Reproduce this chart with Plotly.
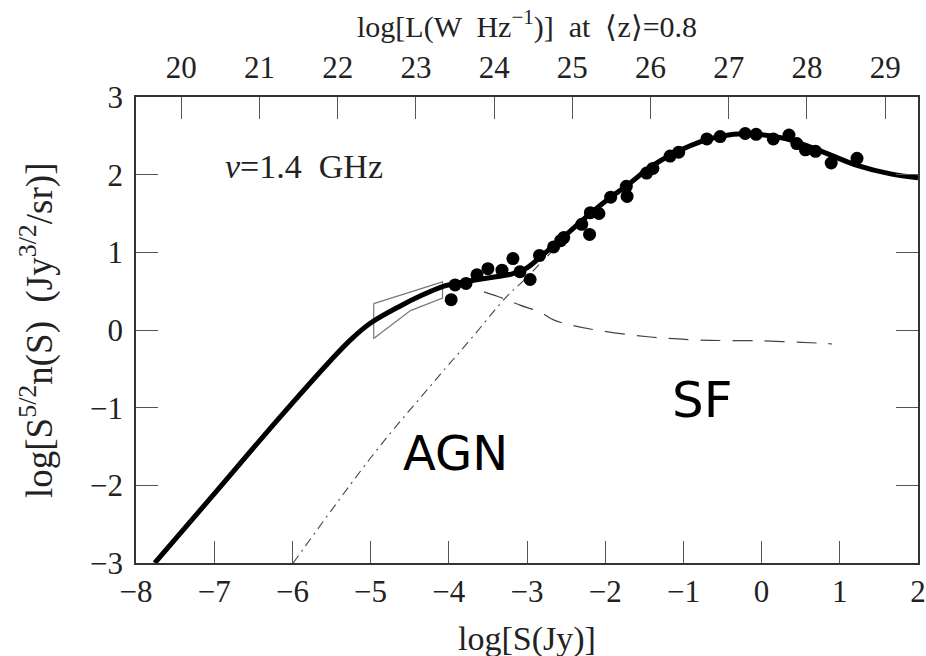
import plotly.graph_objects as go

# ---- data ----
total_S = [-7.76, -7.0, -6.2, -5.5, -5.25, -5.0, -4.62, -4.36, -4.08, -3.8, -3.5, -3.2, -3.0,
           -2.83, -2.53, -2.19, -1.93, -1.72, -1.42, -1.13, -0.70, -0.36, -0.06,
           0.32, 0.79, 1.22, 1.65, 2.0]
total_y = [-3.0, -2.11, -1.17, -0.38, -0.12, 0.09, 0.31, 0.44, 0.56, 0.62, 0.67, 0.72, 0.80,
           0.94, 1.20, 1.50, 1.71, 1.86, 2.10, 2.27, 2.45, 2.52, 2.52,
           2.46, 2.29, 2.12, 2.01, 1.96]

sf_S = [-3.55, -3.26, -3.09, -2.83, -2.66, -2.42, -2.06, -1.42, -0.78, 0.0, 0.75, 0.9]
sf_y = [0.49, 0.39, 0.32, 0.23, 0.13, 0.06, -0.01, -0.09, -0.13, -0.14, -0.17, -0.18]

agn_S = [-5.99, -4.94, -4.15, -3.73, -3.26, -3.04, -2.70, -2.5]
agn_y = [-3.0, -1.57, -0.62, -0.13, 0.43, 0.64, 0.99, 1.17]

obs_S = [-3.97, -3.92, -3.78, -3.64, -3.50, -3.32, -3.18, -3.09, -2.96, -2.84, -2.66,
         -2.57, -2.53, -2.30, -2.20, -2.19, -2.08, -1.93, -1.73, -1.72, -1.47, -1.39,
         -1.17, -1.06, -0.70, -0.53, -0.21, -0.07, 0.15, 0.35, 0.45, 0.56, 0.69, 0.89, 1.22]
obs_y = [0.39, 0.58, 0.60, 0.71, 0.79, 0.77, 0.92, 0.75, 0.65, 0.96, 1.07,
         1.15, 1.19, 1.36, 1.23, 1.51, 1.50, 1.71, 1.85, 1.72, 2.02, 2.08,
         2.24, 2.29, 2.46, 2.49, 2.53, 2.52, 2.46, 2.51, 2.40, 2.32, 2.30, 2.15, 2.21]

box_S = [-4.96, -4.08, -4.08, -4.49, -4.96, -4.96]
box_y = [0.34, 0.62, 0.41, 0.25, -0.11, 0.34]

S_ticks = list(range(-8, 3))
y_ticks = list(range(-3, 4))
L_ticks = list(range(20, 30))
L_offset = 27.42  # log L = log S + offset at <z>=0.8

SERIF = "Liberation Serif"
TXT = "#222222"

fig = go.Figure()
fig.add_trace(go.Scatter(x=box_S, y=box_y, mode="lines",
                         line=dict(color="#777777", width=1.2), hoverinfo="skip"))
fig.add_trace(go.Scatter(x=agn_S, y=agn_y, mode="lines", line_shape="spline",
                         line=dict(color="#444444", width=1.1, dash="9px,5px,2px,5px")))
fig.add_trace(go.Scatter(x=sf_S, y=sf_y, mode="lines", line_shape="spline",
                         line=dict(color="#444444", width=1.2, dash="20px,12px")))
fig.add_trace(go.Scatter(x=total_S, y=total_y, mode="lines", line_shape="spline",
                         line=dict(color="black", width=5)))
fig.add_trace(go.Scatter(x=obs_S, y=obs_y, mode="markers",
                         marker=dict(color="black", size=13)))
# invisible trace to anchor the top luminosity axis
fig.add_trace(go.Scatter(x=L_ticks, y=[None] * len(L_ticks), xaxis="x2", mode="markers",
                         marker=dict(opacity=0), hoverinfo="skip"))

axis_common = dict(ticks="inside", ticklen=22, tickwidth=1, tickcolor="#555555",
                   showgrid=False, zeroline=False, automargin=False,
                   tickfont=dict(family=SERIF, size=31, color=TXT))

fig.update_layout(
    width=926, height=656,
    margin=dict(l=136, r=8, t=97, b=93),
    paper_bgcolor="white", plot_bgcolor="white",
    showlegend=False,
    xaxis=dict(range=[-8, 2], tickmode="array", tickvals=S_ticks,
               showline=True, linecolor="#333333", linewidth=1.5, mirror=True,
               ticklabeloverflow="allow", **axis_common),
    xaxis2=dict(range=[-8 + L_offset, 2 + L_offset], overlaying="x", side="top",
                tickmode="array", tickvals=L_ticks, showline=False,
                ticklabelstandoff=12, **axis_common),
    yaxis=dict(range=[-3, 3], tickmode="array", tickvals=y_ticks,
               showline=True, linecolor="#333333", linewidth=1.5, mirror="ticks",
               ticklabelstandoff=5, **axis_common),
    annotations=[
        dict(text="log[S(Jy)]", xref="paper", yref="paper", x=0.5, y=-0.163,
             showarrow=False, font=dict(family=SERIF, size=34, color=TXT),
             xanchor="center", yanchor="middle"),
        dict(text="log[L(W  Hz<sup>−1</sup>)]  at  ⟨z⟩=0.8", xref="paper", yref="paper",
             x=0.5, y=1.155, showarrow=False, font=dict(family=SERIF, size=30, color=TXT),
             xanchor="center", yanchor="middle"),
        dict(text="log[S<sup>5/2</sup>n(S)  (Jy<sup>3/2</sup>/sr)]", xref="paper", yref="paper",
             x=-0.1266, y=0.5, textangle=-90, showarrow=False,
             font=dict(family=SERIF, size=37, color=TXT),
             xanchor="center", yanchor="middle"),
        dict(text="<i>ν</i>=1.4  GHz", xref="paper", yref="paper", x=0.215, y=0.851,
             showarrow=False, font=dict(family=SERIF, size=34, color=TXT),
             xanchor="center", yanchor="middle"),
        dict(text="SF", x=-0.76, y=-0.90, showarrow=False,
             font=dict(family="DejaVu Sans", size=50, color="black"),
             xanchor="center", yanchor="middle"),
        dict(text="AGN", x=-3.92, y=-1.58, showarrow=False,
             font=dict(family="DejaVu Sans", size=48, color="black"),
             xanchor="center", yanchor="middle"),
    ],
)

fig.write_html("out.html",
               config={"displayModeBar": False},
               post_script="document.body.style.margin='0px';document.body.style.overflow='hidden';")
